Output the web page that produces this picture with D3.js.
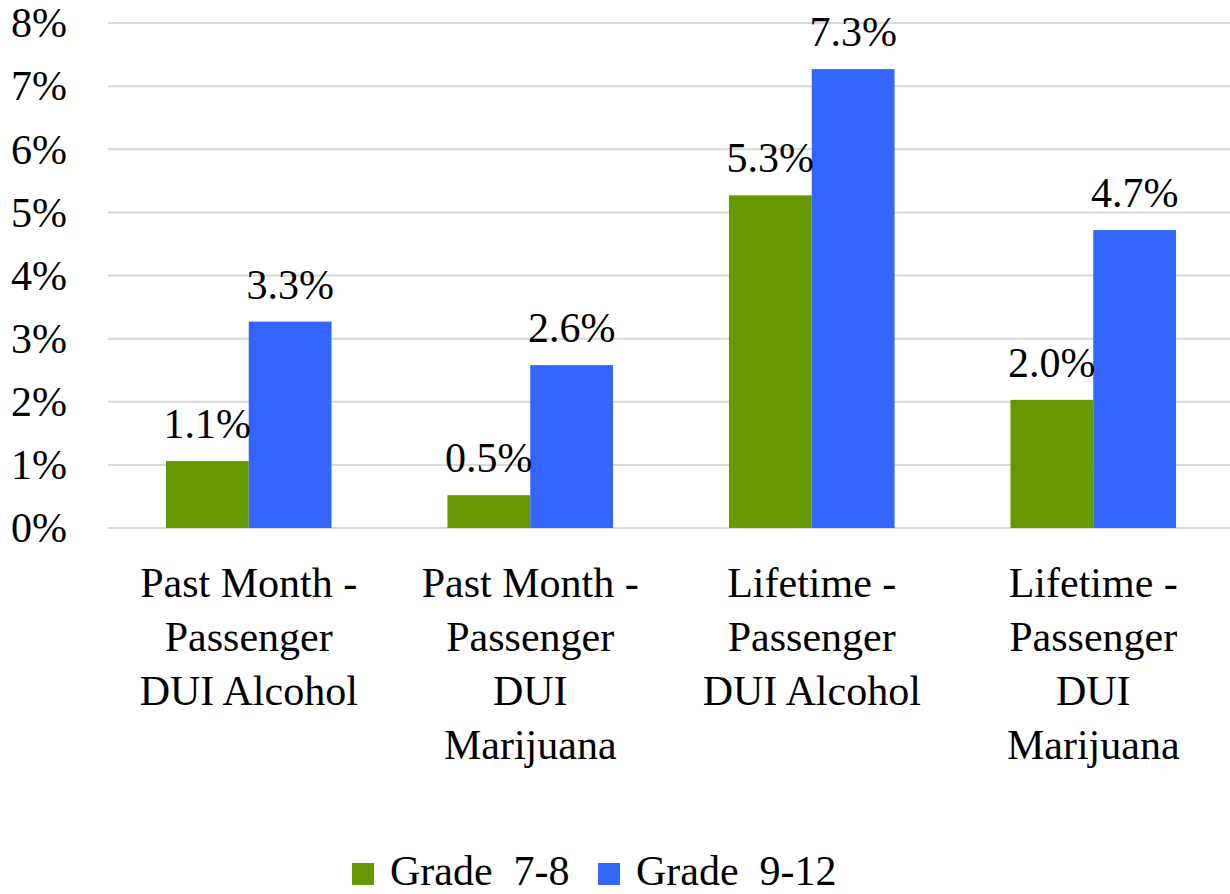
<!DOCTYPE html>
<html>
<head>
<meta charset="utf-8">
<script src="https://cdn.jsdelivr.net/npm/d3@7"></script>
<style>
  body { margin: 0; background: #fff; }
</style>
</head>
<body>
<div id="chart"></div>
<script>
var categories = [
  ["Past Month -", "Passenger", "DUI Alcohol"],
  ["Past Month -", "Passenger", "DUI", "Marijuana"],
  ["Lifetime -", "Passenger", "DUI Alcohol"],
  ["Lifetime -", "Passenger", "DUI", "Marijuana"]
];
var series = ["Grade  7-8", "Grade  9-12"];
var grade78 = [1.06, 0.52, 5.27, 2.03];
var grade912 = [3.27, 2.58, 7.27, 4.72];
var yTicks = [0, 1, 2, 3, 4, 5, 6, 7, 8];
var colors = ["#669900", "#3366ff"];

var w = 1230, h = 894, fs = 42;
var font = "'Liberation Serif', 'DejaVu Serif', serif";
var svg = d3.select("#chart").append("svg").attr("width", w).attr("height", h)
  .style("font-family", font);

var catIdx = categories.map(function (d, i) { return i; });
var x0 = d3.scaleBand().domain(catIdx).range([108, 1234]);
var x1 = d3.scaleBand().domain([0, 1]).range([0, x0.bandwidth()]).paddingOuter(0.7);
var y = d3.scaleLinear().domain([0, 8]).range([528, 23]);

// gridlines
svg.selectAll("line.grid")
  .data(yTicks)
  .enter()
  .append("line")
  .attr("x1", 108)
  .attr("x2", w)
  .attr("y1", function (d) { return y(d); })
  .attr("y2", function (d) { return y(d); })
  .style("stroke", "#d9d9d9")
  .style("stroke-width", 2);

// y labels
svg.selectAll("text.ytick")
  .data(yTicks)
  .enter()
  .append("text")
  .attr("font-family", font)
  .attr("x", 67)
  .attr("y", function (d) { return y(d); })
  .attr("dy", "0.34em")
  .attr("text-anchor", "end")
  .style("font-size", fs + "px")
  .text(function (d) { return d + "%"; });

var rows = [];
categories.forEach(function (c, i) {
  rows.push({ cat: i, s: 0, v: grade78[i] });
  rows.push({ cat: i, s: 1, v: grade912[i] });
});

svg.selectAll("rect.bar")
  .data(rows)
  .enter()
  .append("rect")
  .attr("x", function (d) { return x0(d.cat) + x1(d.s); })
  .attr("y", function (d) { return y(d.v); })
  .attr("width", x1.bandwidth())
  .attr("height", function (d) { return y(0) - y(d.v); })
  .style("fill", function (d) { return colors[d.s]; });

svg.selectAll("text.val")
  .data(rows)
  .enter()
  .append("text")
  .attr("font-family", font)
  .attr("x", function (d) { return x0(d.cat) + x1(d.s) + x1.bandwidth() / 2; })
  .attr("y", function (d) { return y(d.v) - 23; })
  .attr("text-anchor", "middle")
  .style("font-size", fs + "px")
  .text(function (d) { return d.v.toFixed(1) + "%"; });

// category labels
var cat = svg.selectAll("text.cat")
  .data(categories)
  .enter()
  .append("text")
  .attr("font-family", font)
  .attr("text-anchor", "middle")
  .style("font-size", fs + "px");
cat.selectAll("tspan")
  .data(function (d, i) { return d.map(function (t) { return { t: t, i: i }; }); })
  .enter()
  .append("tspan")
  .attr("x", function (d) { return x0(d.i) + x0.bandwidth() / 2; })
  .attr("y", function (d, j) { return 597 + j * 54; })
  .text(function (d) { return d.t; });

// legend
var legX = [352, 598];
var leg = svg.selectAll("g.leg")
  .data(series)
  .enter()
  .append("g")
  .attr("transform", function (d, i) { return "translate(" + legX[i] + ",0)"; });
leg.append("rect")
  .attr("x", 0)
  .attr("y", 863)
  .attr("width", 22)
  .attr("height", 22)
  .style("fill", function (d, i) { return colors[i]; });
leg.append("text")
  .attr("font-family", font)
  .attr("x", 38)
  .attr("y", 885)
  .style("font-size", fs + "px")
  .style("white-space", "pre")
  .text(function (d) { return d; });
</script>
</body>
</html>
